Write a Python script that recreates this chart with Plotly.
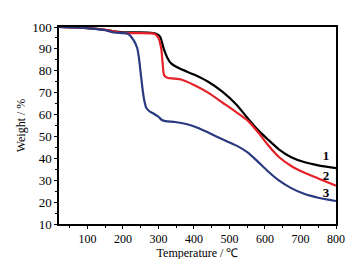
import plotly.graph_objects as go

t1 = [20, 100, 150, 175, 200, 250, 280, 295, 305, 315, 325, 335, 360, 400, 440, 480, 520, 553, 580, 609, 640, 674, 710, 750, 800]
w1 = [100, 99.5, 98.7, 98, 97.6, 97.5, 97.3, 96.8, 95.5, 90, 86, 83.5, 81, 78.3, 75, 70.5, 64.5, 58, 53, 48.5, 44, 40.5, 38.3, 36.8, 35.5]

t2 = [20, 100, 150, 175, 200, 250, 290, 300, 308, 312, 316, 325, 364, 400, 440, 480, 520, 553, 580, 609, 640, 674, 710, 750, 800]
w2 = [100, 99.5, 98.7, 98, 97.3, 97.2, 96.8, 95, 90, 83, 78, 76.8, 76, 73.5, 70, 65.5, 61, 57, 52, 46, 40.5, 36.5, 33.5, 30.8, 27.5]

t3 = [20, 100, 150, 175, 200, 215, 230, 240, 245, 250, 255, 260, 266, 275, 286, 300, 310, 320, 347, 378, 410, 440, 480, 520, 553, 580, 609, 640, 674, 710, 750, 800]
w3 = [100, 99.5, 98.5, 97.5, 97.2, 96.8, 94, 90.5, 86, 79, 72, 66.5, 63, 61.5, 60.5, 59, 57.5, 57, 56.6, 55.7, 54, 51.8, 48.7, 45.8, 42.5, 38.5, 34, 29.8, 26.4, 23.8, 22, 20.5]

labels = ["1", "2", "3"]
label_t = [772, 772, 772]
label_w = [40.5, 31.5, 24]

font_fam = "Liberation Serif"

fig = go.Figure()
for t, w, c in [(t1, w1, "#000000"), (t2, w2, "#e52229"), (t3, w3, "#2a3a80")]:
    fig.add_trace(go.Scatter(x=t, y=w, mode="lines",
                             line=dict(color=c, width=2.2, shape="spline", smoothing=0.6),
                             showlegend=False, hoverinfo="skip"))

fig.add_trace(go.Scatter(x=label_t, y=label_w, mode="text", text=["<b>%s</b>" % s for s in labels],
                         textfont=dict(family=font_fam, size=13, color="#000000"),
                         textposition="middle center", showlegend=False, hoverinfo="skip"))

axis_common = dict(showgrid=False, zeroline=False, showline=True, linecolor="#000000",
                   linewidth=1.5, mirror=True, ticks="outside", ticklen=3, tickwidth=1.2,
                   tickcolor="#000000", tickfont=dict(family=font_fam, size=13, color="#000000"))

fig.update_layout(
    width=359, height=259,
    margin=dict(l=50, r=31, t=17, b=37),
    plot_bgcolor="white", paper_bgcolor="white",
    xaxis=dict(range=[20, 800], tickvals=[100, 200, 300, 400, 500, 600, 700, 800],
               minor=dict(tickvals=[50, 150, 250, 350, 450, 550, 650, 750], ticks="outside",
                          ticklen=2, tickcolor="#000000"),
               title=dict(text="Temperature / ℃", font=dict(family=font_fam, size=12, color="#000000"),
                          standoff=0),
               ticklabelstandoff=0,
               **axis_common),
    yaxis=dict(range=[10, 100], tickvals=[10, 20, 30, 40, 50, 60, 70, 80, 90, 100],
               minor=dict(tickvals=[15, 25, 35, 45, 55, 65, 75, 85, 95], ticks="outside",
                          ticklen=2, tickcolor="#000000"),
               title=dict(text="Weight / %", font=dict(family=font_fam, size=12, color="#000000"),
                          standoff=4),
               **axis_common),
)
fig.update_xaxes(tickfont=dict(size=12))

fig.write_html("out.html")
